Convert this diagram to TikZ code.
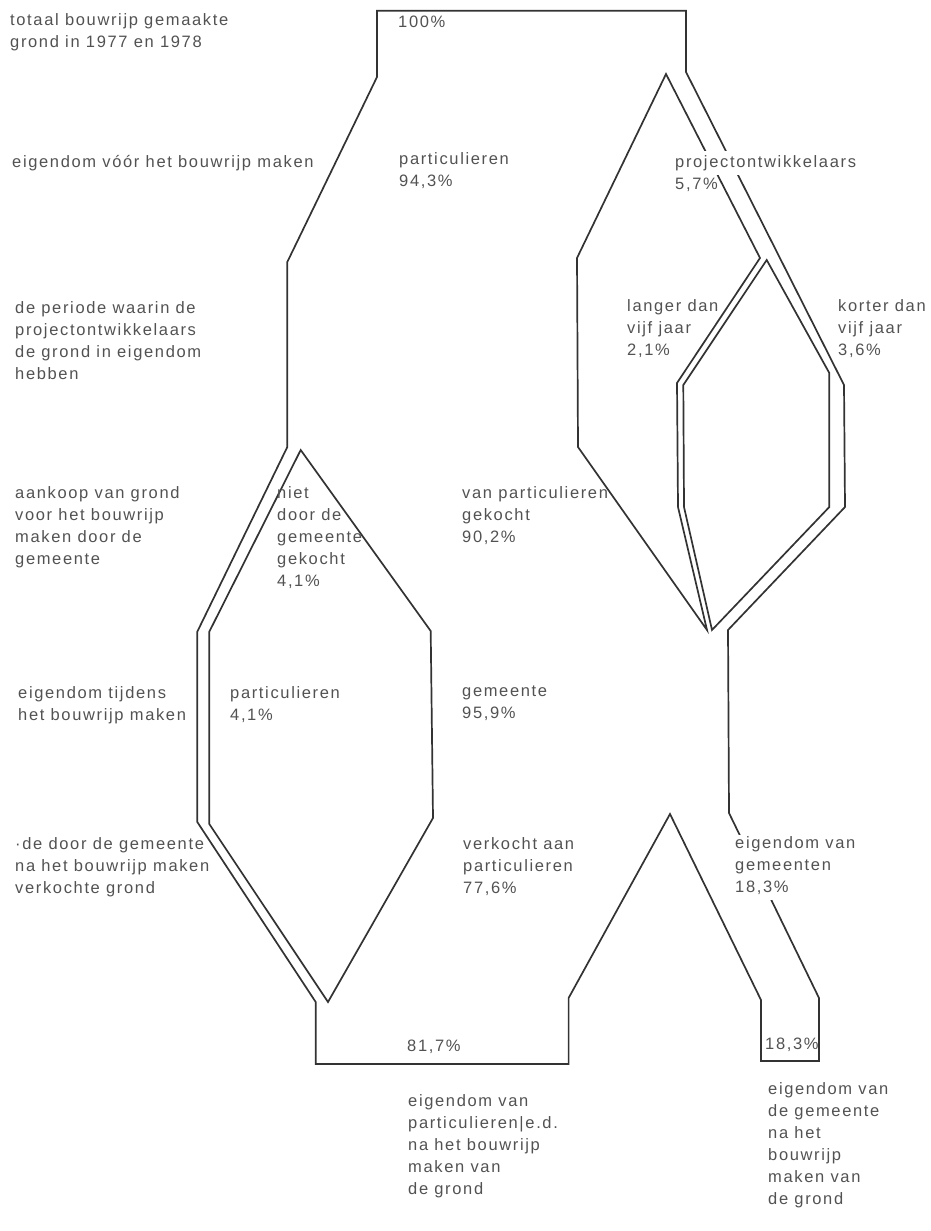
\documentclass[tikz,border=0pt]{standalone}
\usepackage{fontspec}
\setmainfont{Liberation Sans}[LetterSpace=10.0]
\usepackage{tikz}
\usetikzlibrary{positioning}
\definecolor{ink}{gray}{0.32}
\definecolor{rule}{gray}{0.2}

\begin{document}
\begin{tikzpicture}[x=1pt,y=-1pt]
\tikzstyle{every node}+=[inner sep=0pt]
\tikzstyle{lbl}=[anchor=north west,align=left,text=ink,font=\fontsize{16.5}{22}\selectfont,execute at begin node=\strut]
\tikzstyle{mask}=[lbl,fill=white,inner sep=1pt]
\tikzstyle{edge}=[draw=rule,line width=1.7pt,line join=miter]
\useasboundingbox (0,0) rectangle (931,1231);
% outer contour of the whole flow
\draw [edge] (377,10.7) -- (686,10.7) -- (686,72) -- (844,385) -- (845,507) -- (728,630)
  -- (729,813) -- (819,998) -- (819,1061) -- (761,1061) -- (761,1000) -- (670,814)
  -- (568.6,998) -- (568.6,1064) -- (315.7,1064) -- (315.7,1002) -- (197.3,822)
  -- (197.3,631.7) -- (287.3,447) -- (287.3,262) -- (377,77) -- cycle;
% gap between particulieren and projectontwikkelaars
\draw [edge] (666,74) -- (760,258) -- (677,383) -- (678,507) -- (707,630) -- (578,447)
  -- (577,258) -- cycle;
% gap between langer and korter dan vijf jaar
\draw [edge] (766.7,260) -- (829.3,373) -- (829.3,507) -- (712,630) -- (684,507)
  -- (683.3,385) -- cycle;
% gap between niet gekocht and gemeente
\draw [edge] (300.7,450) -- (430.7,631) -- (433,818) -- (328,1002) -- (209.3,824)
  -- (209.3,631.7) -- cycle;

% row labels on the left
\node [lbl] (tot) at (10,13) {totaal bouwrijp gemaakte\\grond in 1977 en 1978};
\node [lbl] (voor) at (12,152) {eigendom vóór het bouwrijp maken};
\node [lbl] (periode) at (15,301) {de periode waarin de\\projectontwikkelaars\\de grond in eigendom\\hebben};
\node [lbl] (aankoop) at (15,486) {aankoop van grond\\voor het bouwrijp\\maken door de\\gemeente};
\node [lbl] (tijdens) at (18,686) {eigendom tijdens\\het bouwrijp maken};
\node [lbl] (verkocht) at (15,837) {·de door de gemeente\\na het bouwrijp maken\\verkochte grond};

% flow labels
\node [lbl] (p100) at (398,12) {100\%};
\node [lbl] (part) at (399,152) {particulieren\\94,3\%};
\node [mask] (proj) at (674,151) {projectontwikkelaars};
\node [lbl] (projv) at (675,174) {5,7\%};
\node [lbl] (langer) at (627,299) {langer dan\\vijf jaar\\2,1\%};
\node [lbl] (korter) at (838,299) {korter dan\\vijf jaar\\3,6\%};
\node [lbl] (niet) at (277,486) {niet\\door de\\gemeente\\gekocht\\4,1\%};
\node [lbl] (vanpart) at (462,486) {van particulieren\\gekocht\\90,2\%};
\node [lbl] (partb) at (230,686) {particulieren\\4,1\%};
\node [lbl] (gem) at (462,686) {gemeente\\95,9\%};
\node [lbl] (aanpart) at (463,837) {verkocht aan\\particulieren\\77,6\%};
\node [mask] (eiggem) at (734,835) {eigendom van\\gemeenten\\18,3\%};
\node [lbl] (p817) at (407,1036) {81,7\%};
\node [lbl] (p183) at (765,1034) {18,3\%};

% end states below
\node [lbl] (napart) at (408,1094) {eigendom van\\particulieren|e.d.\\na het bouwrijp\\maken van\\de grond};
\node [lbl] (nagem) at (768,1082) {eigendom van\\de gemeente\\na het\\bouwrijp\\maken van\\de grond};
\end{tikzpicture}
\end{document}
